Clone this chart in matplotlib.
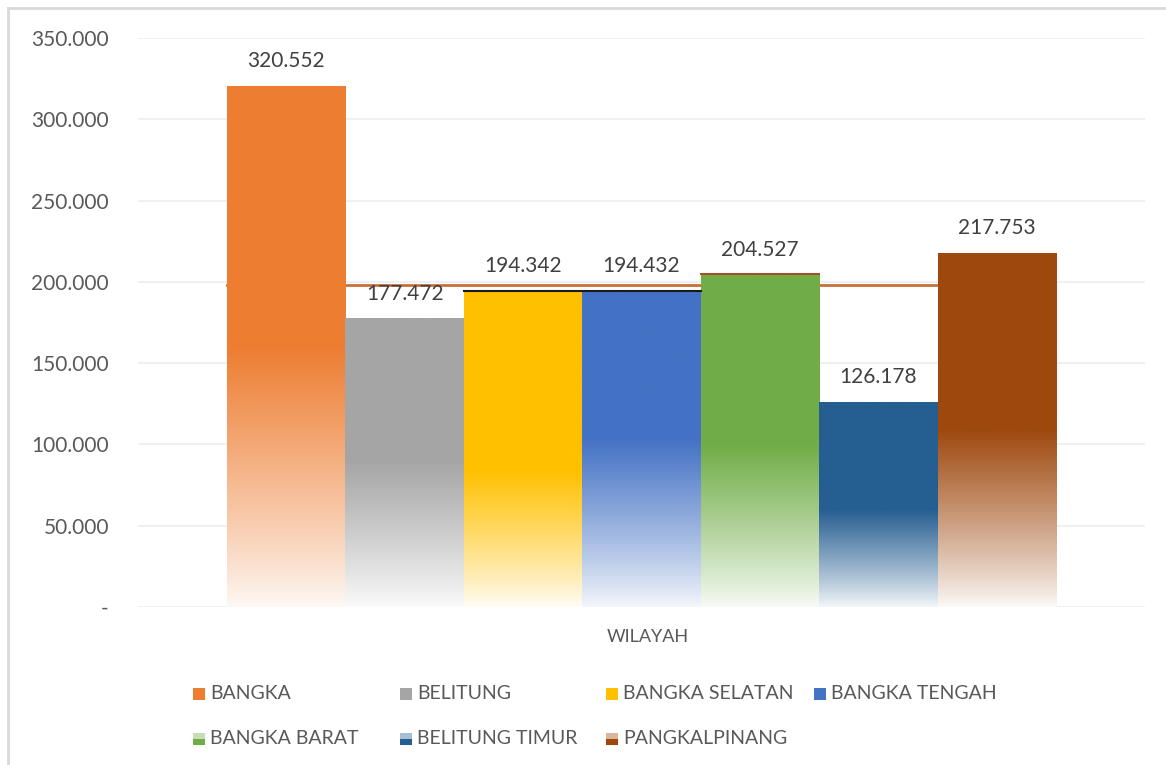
import numpy as np
import matplotlib
matplotlib.use('Agg')
import matplotlib.pyplot as plt
from matplotlib.colors import to_rgb
from matplotlib.patches import Rectangle
from matplotlib.lines import Line2D

# data
wilayah = ['BANGKA', 'BELITUNG', 'BANGKA SELATAN', 'BANGKA TENGAH',
           'BANGKA BARAT', 'BELITUNG TIMUR', 'PANGKALPINANG']
nilai = [320.552, 177.472, 194.342, 194.432, 204.527, 126.178, 217.753]
label_nilai = ['320.552', '177.472', '194.342', '194.432', '204.527', '126.178', '217.753']
garis_acuan = 198.0
category = 'WILAYAH'
yticks = [0, 50, 100, 150, 200, 250, 300, 350]
ytick_labels = ['-', '50.000', '100.000', '150.000', '200.000', '250.000', '300.000', '350.000']

colors = ['#ED7D31', '#A5A5A5', '#FFC000', '#4472C4', '#70AD47', '#255E91', '#9E480E']
# height (data units) where each bar starts fading to white
fade_from = [160, 90, 84, 103, 100, 60, 109]
fade_end = [0.95, 0.96, 0.96, 0.94, 0.95, 0.95, 0.97]
two_tone = [False, False, False, False, True, True, True]

plt.rcParams['font.family'] = ['Lato', 'DejaVu Sans']
txt = '#404040'
W, H = 1166, 765
fig = plt.figure(figsize=(W/100, H/100), dpi=100)
ax = fig.add_axes([138/W, 1 - 607/H, (1145-138)/W, (607-38)/H])

n = len(nilai)
w = 0.1176
x0 = -w * n / 2 + w / 2
xs = [x0 + i * w for i in range(n)]

ax.set_xlim(-0.5, 0.5)
ax.set_ylim(0, 350)

# reference line behind bars
left = xs[0] - w / 2
right = xs[-1] - w / 2
ax.plot([left, right], [garis_acuan, garis_acuan], color='#C8703A', lw=2, zorder=1)

def blend(c, a):
    base = np.array(to_rgb(c))
    return tuple(1 + (base - 1) * a)

for i, (xc, v, c) in enumerate(zip(xs, nilai, colors)):
    rect = Rectangle((xc - w/2, 0), w, v, facecolor='none', edgecolor='none', zorder=2)
    ax.add_patch(rect)
    yy = np.linspace(0, v, 300)
    t = np.clip(yy / fade_from[i], 0, 1) ** 0.9
    base = np.array(to_rgb(c))
    mix = (1 - fade_end[i] * (1 - t))[:, None]
    grad = 1 + (base - 1) * mix
    img = np.repeat(grad[:, None, :], 2, axis=1)
    im = ax.imshow(img, extent=[xc - w/2, xc + w/2, 0, v], origin='lower',
                   aspect='auto', interpolation='bilinear', zorder=2)
    im.set_clip_path(rect)
    ax.text(xc, v + 9, label_nilai[i], ha='center', va='bottom', fontsize=15, color=txt, zorder=4)

# thin edge artifacts on top of some bars
ax.plot([xs[2] - w/2, xs[3] + w/2], [nilai[3], nilai[3]], color='#1a1a1a', lw=1.5, zorder=3)
ax.plot([xs[4] - w/2, xs[4] + w/2], [nilai[4], nilai[4]], color='#A0522D', lw=1.5, zorder=3)

ax.set_yticks(yticks)
ax.set_yticklabels(ytick_labels, fontsize=15, color='#595959')
ax.tick_params(axis='y', length=0, pad=21)
ax.set_xticks([])
ax.grid(axis='y', color='#EDEDED', lw=1.2, zorder=0)
ax.set_axisbelow(True)
for s in ax.spines.values():
    s.set_visible(False)

fig.text(648/W, 1 - 637/H, category, ha='center', va='center', fontsize=13, color='#595959')

# legend laid out like Excel: equal-width columns, row by row
col_x = [193, 400, 606, 814]
row_y = [693.5, 738.5]
sq = 12
for i, name in enumerate(wilayah):
    px = col_x[i % 4]
    py = row_y[i // 4]
    if two_tone[i]:
        fig.add_artist(Rectangle((px/W, 1 - (py + sq/2)/H), sq/W, (sq/2)/H,
                                 transform=fig.transFigure, facecolor=colors[i], edgecolor='none'))
        fig.add_artist(Rectangle((px/W, 1 - py/H), sq/W, (sq/2)/H,
                                 transform=fig.transFigure, facecolor=blend(colors[i], 0.4), edgecolor='none'))
    else:
        fig.add_artist(Rectangle((px/W, 1 - (py + sq/2)/H), sq/W, sq/H,
                                 transform=fig.transFigure, facecolor=colors[i], edgecolor='none'))
    fig.text((px + 17)/W, 1 - py/H, name, ha='left', va='center', fontsize=14, color='#595959')

# outer chart border
fig.add_artist(Line2D([8/W, 8/W], [0, 1 - 8/H], color='#D9D9D9', lw=2))
fig.add_artist(Line2D([8/W, 1], [1 - 8/H, 1 - 8/H], color='#D9D9D9', lw=2))

fig.savefig('out.png', dpi=100)
